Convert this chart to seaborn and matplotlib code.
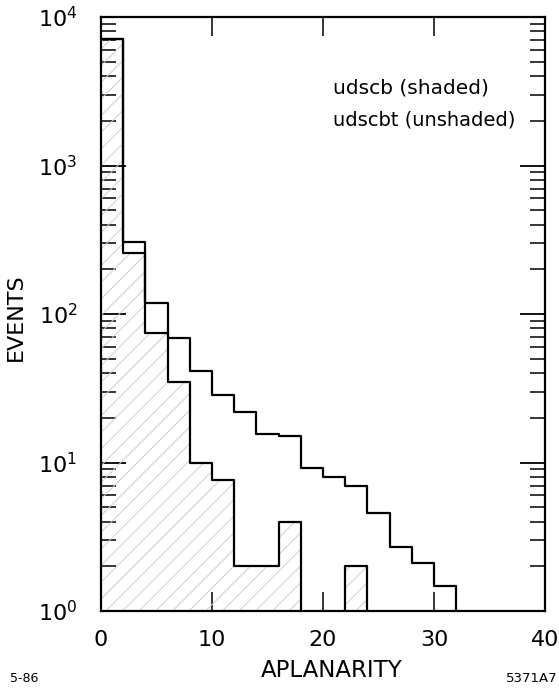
import numpy as np
import pandas as pd
import matplotlib
matplotlib.use("Agg")
import matplotlib.pyplot as plt
import seaborn as sns
from matplotlib.ticker import FixedLocator, LogLocator, NullFormatter

# ---- data ----
bin_edges = list(range(0, 42, 2))  # aplanarity bins, width 2
udscbt = [7100, 304, 118, 68.6, 41.5, 28.5, 22.0, 15.5, 15.0, 9.2,
          8.0, 6.9, 4.6, 2.7, 2.1, 1.48, 0, 0, 0, 0]
udscb = [7100, 256, 75, 35, 10, 7.6, 2, 2, 4, 0,
         0, 2, 0, 0, 0, 0, 0, 0, 0, 0]
xticks = [0, 10, 20, 30, 40]
label_top = "udscb (shaded)"
label_bottom = "udscbt (unshaded)"

centers = [(a + b) / 2 for a, b in zip(bin_edges[:-1], bin_edges[1:])]
df = pd.DataFrame({"x": centers, "udscbt": udscbt, "udscb": udscb})

sns.set_style("ticks")
plt.rcParams["font.family"] = ["DejaVu Sans"]
plt.rcParams["text.color"] = "black"
plt.rcParams["axes.labelcolor"] = "black"
plt.rcParams["xtick.color"] = "black"
plt.rcParams["ytick.color"] = "black"
plt.rcParams["hatch.linewidth"] = 0.7

fig = plt.figure(figsize=(5.59, 6.88), dpi=100)
ax = fig.add_axes([101 / 559, 1 - 611 / 688, (545 - 101) / 559, (611 - 17) / 688])
ax.set_yscale("log")

# shaded (hatched) udscb histogram
sns.histplot(data=df, x="x", weights="udscb", bins=bin_edges, element="step",
             fill=True, ax=ax, color="black", linewidth=0)
coll = ax.collections[-1]
coll.set_facecolor("none")
coll.set_edgecolor("#cfcfcf")
coll.set_hatch("//")
coll.set_linewidth(0)

# outlines
sns.histplot(data=df, x="x", weights="udscbt", bins=bin_edges, element="step",
             fill=False, ax=ax, color="black", linewidth=1.6)
sns.histplot(data=df, x="x", weights="udscb", bins=bin_edges, element="step",
             fill=False, ax=ax, color="black", linewidth=1.6)

ax.set_xlim(0, 40)
ax.set_ylim(1, 1e4)

ax.xaxis.set_major_locator(FixedLocator(xticks))
ax.set_xticklabels([str(t) for t in xticks])
ax.yaxis.set_major_locator(LogLocator(base=10, numticks=10))
ax.yaxis.set_minor_locator(LogLocator(base=10, subs=np.arange(2, 10), numticks=20))
ax.yaxis.set_minor_formatter(NullFormatter())

for side in ["top", "right", "left", "bottom"]:
    ax.spines[side].set_visible(True)
    ax.spines[side].set_linewidth(1.6)
    ax.spines[side].set_color("black")

ax.tick_params(axis="y", which="major", direction="in", length=18, width=1.3,
               left=True, right=True, labelsize=16, pad=17)
ax.tick_params(axis="y", which="minor", direction="in", length=11, width=1.1,
               left=True, right=True)
ax.tick_params(axis="x", which="major", direction="in", length=14, width=1.1,
               top=True, bottom=True, labelsize=16, pad=14)
ax.tick_params(axis="x", which="minor", bottom=False, top=False)

ax.set_xlabel("APLANARITY", fontsize=16.5)
ax.set_ylabel("EVENTS", fontsize=16)
ax.xaxis.set_label_coords(0.52, -0.08)
ax.yaxis.set_label_coords(-0.17, 0.495)

ax.text(0.522, 0.88, label_top, transform=ax.transAxes, fontsize=14.5,
        ha="left", va="center")
ax.text(0.522, 0.826, label_bottom, transform=ax.transAxes, fontsize=14,
        ha="left", va="center")

fig.text(10 / 559, 1 - 679 / 688, "5-86", fontsize=9, ha="left", va="center")
fig.text(558 / 559, 1 - 679 / 688, "5371A7", fontsize=9.5, ha="right", va="center")

fig.savefig("out.png", dpi=100)
